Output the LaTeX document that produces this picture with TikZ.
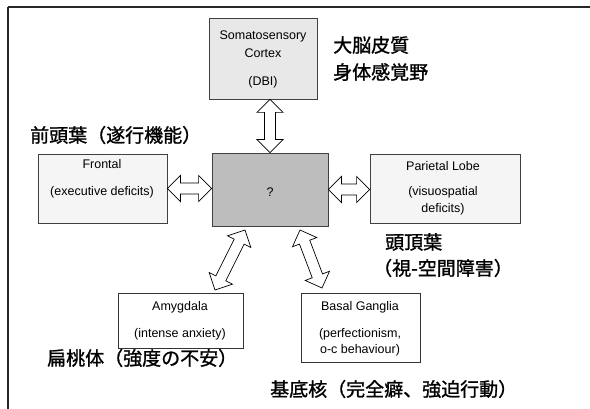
\documentclass[tikz,border=0pt]{standalone}
\usepackage{fontspec}
\setmainfont{Liberation Sans}
\newfontfamily\jp[FakeBold=1.2]{Noto Sans CJK JP}
\usetikzlibrary{calc}
\tikzset{
  boxa/.style={draw=black!75, line width=0.8pt, inner sep=0pt},
  boxb/.style={draw=black!80, line width=0.6pt, fill=white, inner sep=0pt},
  en/.style={font=\fontsize{12.5}{15}\selectfont, inner sep=0pt, anchor=center},
  jpl/.style={font=\jp\fontsize{19}{22}\selectfont, inner sep=0pt, anchor=west},
  harrow/.style={draw=black, line width=0.7pt, fill=white, line join=miter},
  frame/.style={draw=black!85},
}
\newcommand\hollowarrow[2]{%
  \coordinate (ha1) at ($(#1)!13pt!(#2)$);
  \coordinate (ha2) at ($(#2)!13pt!(#1)$);
  \draw[harrow] (#1) -- ($(ha1)!13pt!90:(#2)$) -- ($(ha1)!5.5pt!90:(#2)$)
    -- ($(ha2)!5.5pt!-90:(#1)$) -- ($(ha2)!13pt!-90:(#1)$) -- (#2)
    -- ($(ha2)!13pt!90:(#1)$) -- ($(ha2)!5.5pt!90:(#1)$)
    -- ($(ha1)!5.5pt!-90:(#2)$) -- ($(ha1)!13pt!-90:(#2)$) -- cycle;}
\begin{document}
\begin{tikzpicture}[x=1pt,y=-1pt]
\useasboundingbox[fill=white] (0,0) rectangle (590,409);
% frame
\draw[frame, line width=1.5pt] (8,7) -- (590,7);
\draw[frame, line width=2.2pt] (8,7) -- (8,409);
% boxes
\node[boxa, fill=black!9, minimum width=108pt, minimum height=81pt] (soma) at (263,58.5) {};
\node[boxa, fill=black!26, minimum width=116pt, minimum height=73pt] (ctr) at (270,189.5) {};
\node[boxa, fill=black!4, minimum width=129pt, minimum height=69pt] (fr) at (102.5,188.5) {};
\node[boxa, fill=black!4, minimum width=150pt, minimum height=69pt] (par) at (445,188.5) {};
\node[boxb, minimum width=125pt, minimum height=55pt] (amy) at (180.5,320.5) {};
\node[boxb, minimum width=119pt, minimum height=69pt] (bg) at (360.5,327.5) {};
% box texts
\node[en] (t1) at (263,36) {Somatosensory};
\node[en] (t2) at (263,53) {Cortex};
\node[en] (t3) at (263,82) {(DBI)};
\node[en] (t4) at (270,192) {?};
\node[en] (t5) at (102,164) {Frontal};
\node[en] (t6) at (102,192) {(executive deficits)};
\node[en] (t7) at (443,166) {Parietal Lobe};
\node[en] (t8) at (443,192) {(visuospatial};
\node[en] (t9) at (443,209) {deficits)};
\node[en] (t10) at (180,307) {Amygdala};
\node[en] (t11) at (180,334) {(intense anxiety)};
\node[en] (t12) at (360,307) {Basal Ganglia};
\node[en] (t13) at (360,334) {(perfectionism,};
\node[en] (t14) at (360,350) {o-c behaviour)};
% Japanese labels
\node[jpl] (j1) at (333,45) {大脳皮質};
\node[jpl] (j2) at (333,72) {身体感覚野};
\node[jpl] (j3) at (30,135) {前頭葉（遂行機能）};
\node[jpl] (j4) at (385,242) {頭頂葉};
\node[jpl] (j5) at (373,268) {（視-空間障害）};
\node[jpl] (j6) at (47,358) {扁桃体（強度の不安）};
\node[jpl] (j7) at (270,389) {基底核（完全癖、強迫行動）};
% arrows
\coordinate (va) at (ctr.north |- soma.south);
\hollowarrow{va}{ctr.north}
\coordinate (la) at (ctr.west |- fr.east);
\hollowarrow{fr.east}{la}
\coordinate (ra) at (par.west |- ctr.east);
\hollowarrow{ctr.east}{ra}
\coordinate (dl1) at (245,230);
\coordinate (dl2) at (215,290);
\hollowarrow{dl1}{dl2}
\coordinate (dr1) at (300,230);
\coordinate (dr2) at (322,288);
\hollowarrow{dr1}{dr2}
\end{tikzpicture}
\end{document}
